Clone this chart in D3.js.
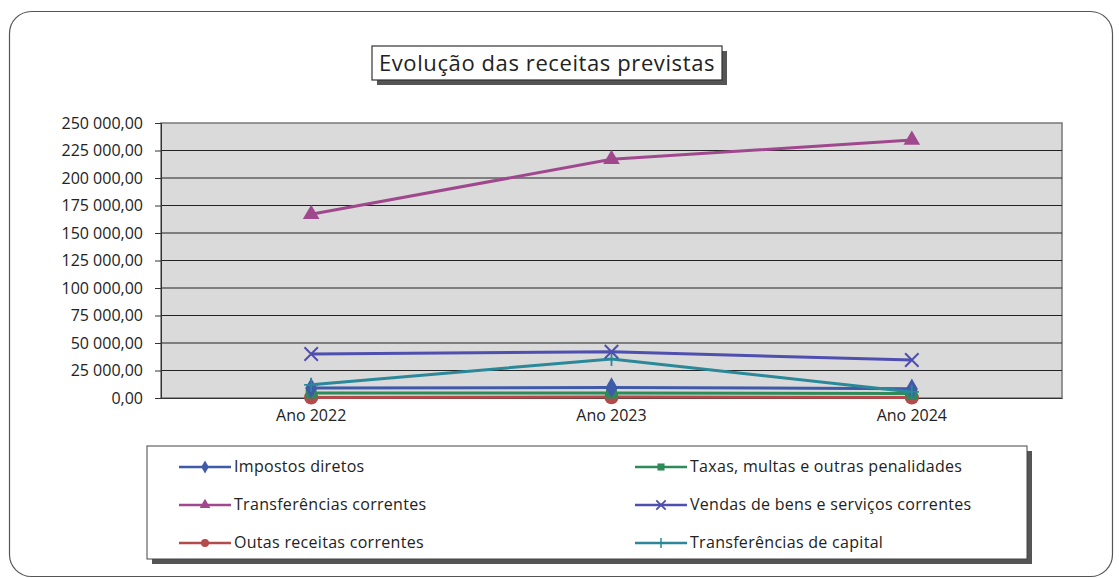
<!DOCTYPE html>
<html><head><meta charset="utf-8">
<script src="https://cdn.jsdelivr.net/npm/d3@7"></script>
<style>body{margin:0;background:#fff}svg{display:block}text{font-family:"Open Sans",Lato,sans-serif;fill:#222}</style>
</head><body><svg id="c" width="1119" height="578"></svg>
<script>
const categories = ["Ano 2022", "Ano 2023", "Ano 2024"];
const impostosDiretos = [9000, 9500, 8500];
const taxasMultas = [4500, 4500, 4000];
const transferenciasCorrentes = [167000, 217000, 234500];
const vendasBens = [40000, 42000, 34500];
const outrasReceitas = [500, 800, 500];
const transferenciasCapital = [12000, 35500, 5500];
const yTicks = [0, 25000, 50000, 75000, 100000, 125000, 150000, 175000, 200000, 225000, 250000];
const seriesNames = ["Impostos diretos", "Taxas, multas e outras penalidades", "Transferências correntes",
  "Vendas de bens e serviços correntes", "Outas receitas correntes", "Transferências de capital"];
const seriesData = [impostosDiretos, taxasMultas, transferenciasCorrentes, vendasBens, outrasReceitas, transferenciasCapital];
const colors = ["#3f5aa8", "#2e8a58", "#a0488e", "#4f4fb0", "#b44a4c", "#2a8898"];
const symbols = ["diamond", "square", "triangle", "cross", "circle", "plus"];
const title = "Evolução das receitas previstas";

const svg = d3.select("#c");
const fmt = v => {
  const s = d3.format(",.2f")(v);
  return s.replace(/,/g, " ").replace(/\.(\d\d)$/, ",$1");
};

// outer frame
svg.append("rect").attr("x", 9.5).attr("y", 11.5).attr("width", 1103).attr("height", 565)
  .attr("rx", 22).attr("fill", "#fff").attr("stroke", "#555").attr("stroke-width", 1.2);

const L = 161, R = 1062, T = 123, B = 398;
const x = d3.scaleBand().domain(categories).range([L, R]);
const y = d3.scaleLinear().domain([0, 250000]).range([B, T]);

svg.append("rect").attr("x", L).attr("y", T).attr("width", R - L).attr("height", B - T)
  .attr("fill", "#dadada").attr("stroke", "#777").attr("stroke-width", 1.5);

// gridlines
svg.append("g").selectAll("line").data(yTicks.slice(1, -1)).join("line")
  .attr("x1", L).attr("x2", R).attr("y1", d => y(d)).attr("y2", d => y(d))
  .attr("stroke", "#222").attr("stroke-width", 1);

const yAxis = svg.append("g").attr("transform", `translate(${L},0)`)
  .call(d3.axisLeft(y).tickValues(yTicks).tickFormat(fmt).tickSize(6).tickPadding(12));
yAxis.select(".domain").attr("stroke", "#333");
yAxis.selectAll(".tick line").attr("stroke", "#333");
yAxis.selectAll("text").style("font-size", "16px").attr("fill", "#222");

const xAxis = svg.append("g").attr("transform", `translate(0,${B})`)
  .call(d3.axisBottom(x).tickSize(0).tickPadding(12));
xAxis.select(".domain").attr("stroke", "#333");
xAxis.selectAll("text").style("font-size", "16px").attr("fill", "#222");

function symPath(type, size) {
  const map = {diamond: d3.symbolDiamond, square: d3.symbolSquare, triangle: d3.symbolTriangle,
    cross: d3.symbolTimes, circle: d3.symbolCircle, plus: d3.symbolCross};
  return d3.symbol(map[type], size)();
}
function drawMarker(g, type, color, size) {
  if (type === "cross") {
    g.append("path").attr("d", d3.symbol(d3.symbolTimes, size)()).attr("fill", "none").attr("stroke", color).attr("stroke-width", 2);
  } else if (type === "plus") {
    g.append("path").attr("d", "M-7,0H7M0,-7V7").attr("fill", "none").attr("stroke", color).attr("stroke-width", 1.8);
  } else {
    g.append("path").attr("d", symPath(type, size)).attr("fill", color);
  }
}

const line = d3.line().x((d, i) => x(categories[i]) + x.bandwidth() / 2).y(d => y(d));
const drawOrder = [4, 1, 0, 5, 3, 2];
drawOrder.forEach(si => {
  const g = svg.append("g");
  g.append("path").datum(seriesData[si]).attr("d", line).attr("fill", "none")
    .attr("stroke", colors[si]).attr("stroke-width", 3);
  seriesData[si].forEach((v, i) => {
    const mg = g.append("g").attr("transform", `translate(${x(categories[i]) + x.bandwidth() / 2},${y(v)})`);
    drawMarker(mg, symbols[si], colors[si], symbols[si] === "circle" ? 160 : 120);
  });
});

// title box
const tb = {x: 372, y: 46, w: 350, h: 34};
svg.append("rect").attr("x", tb.x + 5).attr("y", tb.y + 5).attr("width", tb.w).attr("height", tb.h).attr("fill", "#555");
svg.append("rect").attr("x", tb.x).attr("y", tb.y).attr("width", tb.w).attr("height", tb.h)
  .attr("fill", "#fff").attr("stroke", "#333").attr("stroke-width", 1.2);
svg.append("text").attr("x", tb.x + tb.w / 2).attr("y", tb.y + 25).attr("text-anchor", "middle")
  .style("font-size", "22px").style("letter-spacing", "0.6px").text(title);

// legend box
const lb = {x: 147, y: 446, w: 880, h: 113};
svg.append("rect").attr("x", lb.x + 5).attr("y", lb.y + 5).attr("width", lb.w).attr("height", lb.h).attr("fill", "#555");
svg.append("rect").attr("x", lb.x).attr("y", lb.y).attr("width", lb.w).attr("height", lb.h)
  .attr("fill", "#fff").attr("stroke", "#444").attr("stroke-width", 1);
seriesNames.forEach((name, i) => {
  const col = i % 2, row = Math.floor(i / 2);
  const lx = col === 0 ? 179 : 635, ly = 467 + row * 38;
  const g = svg.append("g");
  g.append("line").attr("x1", lx).attr("x2", lx + 52).attr("y1", ly).attr("y2", ly)
    .attr("stroke", colors[i]).attr("stroke-width", 2.5);
  const mg = g.append("g").attr("transform", `translate(${lx + 26},${ly})`);
  if (symbols[i] === "cross") {
    mg.append("path").attr("d", d3.symbol(d3.symbolTimes, 60)()).attr("fill", "none").attr("stroke", colors[i]).attr("stroke-width", 1.8);
  } else if (symbols[i] === "plus") {
    mg.append("path").attr("d", "M-5,0H5M0,-5V5").attr("fill", "none").attr("stroke", colors[i]).attr("stroke-width", 1.5);
  } else {
    mg.append("path").attr("d", symPath(symbols[i], 50)).attr("fill", colors[i]);
  }
  g.append("text").attr("x", lx + 55).attr("y", ly + 5).style("font-size", "16px").style("letter-spacing", "0.3px").text(name);
});
</script></body></html>
